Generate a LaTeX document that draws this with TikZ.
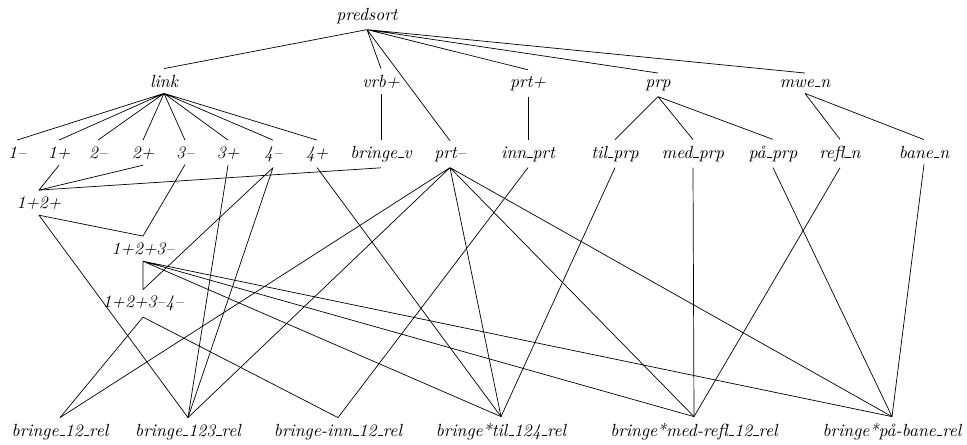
\documentclass[tikz,border=0pt]{standalone}
\usepackage{tikz}
\tikzstyle{sortname} = [font=\itshape, anchor=base, inner sep=.3333em]
\tikzstyle{edge} = [thin]
\newcommand{\usc}{\leavevmode\kern.06em\vbox{\hrule width.3em}}

\begin{document}
\begin{tikzpicture}
  \useasboundingbox (0,0) rectangle (19.34,8.88);

  % top and second row
  \node (predsort) [sortname] at (7.34,8.48) {predsort};
  \node (link) [sortname] at (3.28,7.14) {link};
  \node (vrbp) [sortname] at (7.62,7.14) {vrb+};
  \node (prtp) [sortname] at (10.56,7.14) {prt+};
  \node (prp) [sortname] at (13.16,7.14) {prp};
  \node (mwen) [sortname] at (16.10,7.14) {mwe\usc n};

  % third row
  \node (onem) [sortname] at (0.34,5.72) {1--};
  \node (onep) [sortname] at (1.18,5.72) {1+};
  \node (twom) [sortname] at (1.96,5.72) {2--};
  \node (twop) [sortname] at (2.86,5.72) {2+};
  \node (threem) [sortname] at (3.70,5.72) {3--};
  \node (threep) [sortname] at (4.56,5.72) {3+};
  \node (fourm) [sortname] at (5.46,5.72) {4--};
  \node (fourp) [sortname] at (6.34,5.72) {4+};
  \node (bringev) [sortname] at (7.62,5.72) {bringe\usc v};
  \node (prtm) [sortname] at (9.00,5.72) {prt--};
  \node (innprt) [sortname] at (10.56,5.72) {inn\usc prt};
  \node (tilprp) [sortname] at (12.30,5.72) {til\usc prp};
  \node (medprp) [sortname] at (13.86,5.72) {med\usc prp};
  \node (paprp) [sortname] at (15.46,5.72) {på\usc prp};
  \node (refln) [sortname] at (16.80,5.72) {refl\usc n};
  \node (banen) [sortname] at (18.48,5.72) {bane\usc n};

  % combined links
  \node (onetwo) [sortname] at (0.78,4.72) {1+2+};
  \node (onetwothree) [sortname] at (2.86,3.80) {1+2+3--};
  \node (onetwothreefour) [sortname] at (2.86,2.73) {1+2+3--4--};

  % bottom row
  \node (rel12) [sortname] at (1.20,0.16) {bringe\usc 12\usc rel};
  \node (rel123) [sortname] at (3.76,0.16) {bringe\usc 123\usc rel};
  \node (relinn) [sortname] at (6.76,0.16) {bringe-inn\usc 12\usc rel};
  \node (reltil) [sortname] at (10.02,0.16) {bringe*til\usc 124\usc rel};
  \node (relmed) [sortname] at (13.88,0.16) {bringe*med-refl\usc 12\usc rel};
  \node (relpa) [sortname] at (17.84,0.16) {bringe*på-bane\usc rel};

  \draw[edge] (predsort.south) -- (link.north) (predsort.south) -- (vrbp.north)
    (predsort.south) -- (prtm.north) (predsort.south) -- (prtp.north)
    (predsort.south) -- (prp.north) (predsort.south) -- (mwen.north);
  \draw[edge] (link.south) -- (onem.north) (link.south) -- (onep.north)
    (link.south) -- (twom.north) (link.south) -- (twop.north)
    (link.south) -- (threem.north) (link.south) -- (threep.north)
    (link.south) -- (fourm.north) (link.south) -- (fourp.north);
  \draw[edge] (vrbp.south) -- (bringev.north);
  \draw[edge] (prtp.south) -- (innprt.north);
  \draw[edge] (prp.south) -- (tilprp.north) (prp.south) -- (medprp.north)
    (prp.south) -- (paprp.north);
  \draw[edge] (mwen.south) -- (refln.north) (mwen.south) -- (banen.north);

  \draw[edge] (onep.south) -- (onetwo.north);
  \draw[edge] (twop.south) -- (onetwo.north);
  \draw[edge] (bringev.south) -- (onetwo.north);
  \draw[edge] (threem.south) -- (onetwothree.north);
  \draw[edge] (threep.south) -- (rel123.north);
  \draw[edge] (fourm.south) -- (onetwothreefour.north) (fourm.south) -- (rel123.north);
  \draw[edge] (fourp.south) -- (reltil.north);
  \draw[edge] (prtm.south) -- (rel12.north) (prtm.south) -- (rel123.north)
    (prtm.south) -- (reltil.north) (prtm.south) -- (relmed.north)
    (prtm.south) -- (relpa.north);
  \draw[edge] (innprt.south) -- (relinn.north);
  \draw[edge] (tilprp.south) -- (reltil.north);
  \draw[edge] (medprp.south) -- (relmed.north);
  \draw[edge] (paprp.south) -- (relpa.north);
  \draw[edge] (refln.south) -- (relmed.north);
  \draw[edge] (banen.south) -- (relpa.north);

  \draw[edge] (onetwo.south) -- (onetwothree.north) (onetwo.south) -- (rel123.north);
  \draw[edge] (onetwothree.south) -- (onetwothreefour.north)
    (onetwothree.south) -- (reltil.north) (onetwothree.south) -- (relmed.north)
    (onetwothree.south) -- (relpa.north);
  \draw[edge] (onetwothreefour.south) -- (rel12.north)
    (onetwothreefour.south) -- (relinn.north);
\end{tikzpicture}
\end{document}
